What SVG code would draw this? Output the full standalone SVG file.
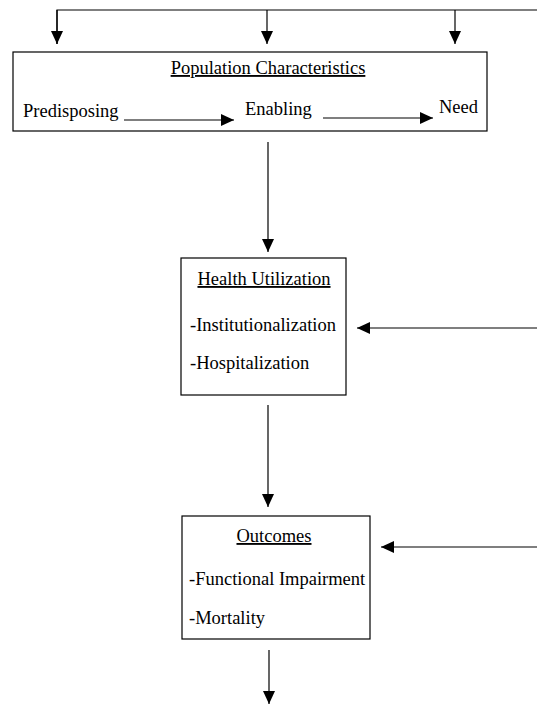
<svg xmlns="http://www.w3.org/2000/svg" width="537" height="713" viewBox="0 0 537 713">
<defs>
<marker id="ah" markerWidth="13" markerHeight="12" refX="13" refY="6" orient="auto" markerUnits="userSpaceOnUse">
<path d="M0,0 L13,6 L0,12 Z" fill="#000"/>
</marker>
<style>
text{font-family:"Liberation Serif","Times New Roman",serif;font-size:18.5px;fill:#000}
.u{text-decoration:underline}
.box{fill:#fff;stroke:#000;stroke-width:1.2}
.c{fill:none;stroke:#000;stroke-width:1.2}
</style>
</defs>
<rect width="537" height="713" fill="#fff"/>
<g id="connectors">
<polyline class="c" points="57,44 57,10 537,10"/>
<line class="c" x1="57" y1="10" x2="57" y2="44" marker-end="url(#ah)"/>
<line class="c" x1="267" y1="10" x2="267" y2="44" marker-end="url(#ah)"/>
<line class="c" x1="455" y1="10" x2="455" y2="44" marker-end="url(#ah)"/>
<line class="c" x1="268" y1="142" x2="268" y2="252" marker-end="url(#ah)"/>
<line class="c" x1="537" y1="328" x2="357" y2="328" marker-end="url(#ah)"/>
<line class="c" x1="268" y1="405" x2="268" y2="507" marker-end="url(#ah)"/>
<line class="c" x1="537" y1="547" x2="381" y2="547" marker-end="url(#ah)"/>
<line class="c" x1="269" y1="650" x2="269" y2="704" marker-end="url(#ah)"/>
</g>
<g id="population">
<rect class="box" x="13" y="52" width="474" height="79"/>
<text class="u" x="268" y="74" text-anchor="middle">Population Characteristics</text>
<text x="23" y="117">Predisposing</text>
<line class="c" x1="124" y1="120" x2="234" y2="120" marker-end="url(#ah)"/>
<text x="245" y="115">Enabling</text>
<line class="c" x1="323" y1="118" x2="433" y2="118" marker-end="url(#ah)"/>
<text x="439" y="113">Need</text>
</g>
<g id="health">
<rect class="box" x="181" y="258" width="165" height="137"/>
<text class="u" x="264" y="285" text-anchor="middle">Health Utilization</text>
<text x="190" y="331">-Institutionalization</text>
<text x="190" y="369">-Hospitalization</text>
</g>
<g id="outcomes">
<rect class="box" x="182" y="516" width="188" height="123"/>
<text class="u" x="274" y="542" text-anchor="middle">Outcomes</text>
<text x="189" y="585">-Functional Impairment</text>
<text x="189" y="624">-Mortality</text>
</g>
</svg>
